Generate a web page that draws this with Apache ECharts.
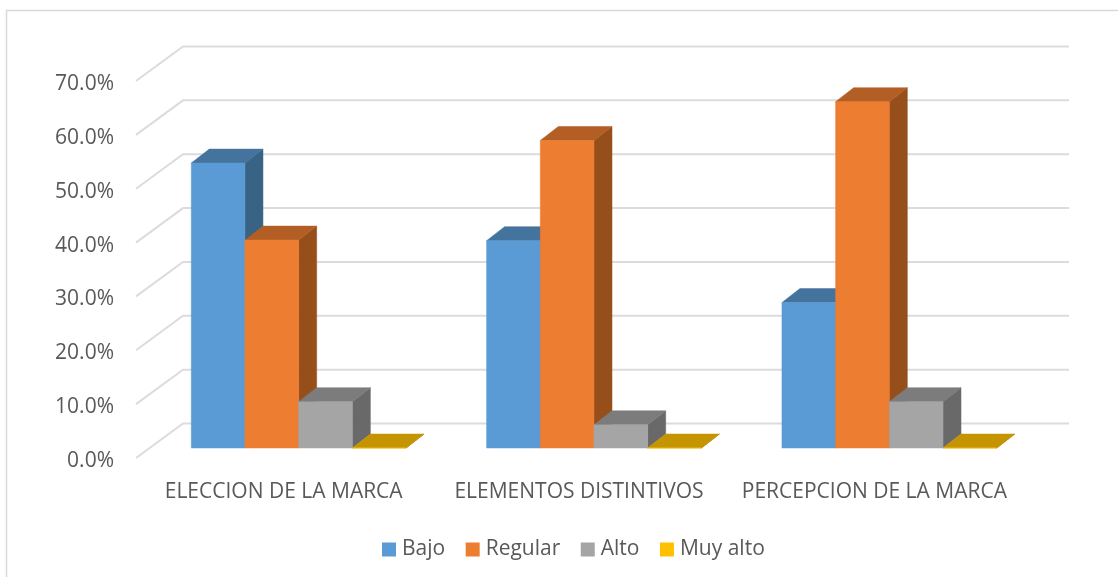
<!DOCTYPE html>
<html>
<head>
<meta charset="utf-8" />
<style>
  html, body { margin: 0; padding: 0; background: #fff; }
  #main { width: 1118px; height: 577px; }
</style>
<script src="https://cdn.jsdelivr.net/npm/echarts@6/dist/echarts.min.js"></script>
</head>
<body>
<div id="main"></div>
<script>
const categories = ["ELECCION DE LA MARCA", "ELEMENTOS DISTINTIVOS", "PERCEPCION DE LA MARCA"];
const bajo = [52.9, 38.5, 27.0];
const regular = [38.6, 57.1, 64.3];
const alto = [8.6, 4.3, 8.6];
const muyAlto = [0, 0, 0];
const ticks = [0, 10, 20, 30, 40, 50, 60, 70];

const fontFamily = '"Open Sans", sans-serif';
const textColor = "#595959";

// profundidad del piso 3D y de cada barra, en px
const floorDx = 47;
const floorDy = 34.5;
const barDx = 18;
const barDy = 14;
const barOffsetDx = 15; // las barras van en medio del piso
const barOffsetDy = 10;

function poly(points, fill) {
  return { type: "polygon", shape: { points: points }, style: { fill: fill, stroke: fill, lineWidth: 0.5 } };
}

// cara frontal, cara superior y cara lateral de una barra
function bar3d(index, colors) {
  return function (params, api) {
    const band = api.size([1, 0])[0];
    const w = band / 5.5;
    const top = api.coord([api.value(0), api.value(1)]);
    const base = api.coord([api.value(0), 0]);
    const x0 = top[0] - 2 * w + index * w + barOffsetDx;
    const x1 = x0 + w;
    const yT = top[1] - barOffsetDy;
    const yB = base[1] - barOffsetDy;
    return {
      type: "group",
      children: [
        poly([[x1, yT], [x1 + barDx, yT - barDy], [x1 + barDx, yB - barDy], [x1, yB]], colors[2]),
        poly([[x0, yT], [x0 + barDx, yT - barDy], [x1 + barDx, yT - barDy], [x1, yT]], colors[1]),
        poly([[x0, yT], [x1, yT], [x1, yB], [x0, yB]], colors[0]),
      ],
    };
  };
}

function barSeries(name, values, index, colors) {
  return {
    name: name,
    type: "custom",
    coordinateSystem: "cartesian2d",
    clip: false,
    z: 3,
    itemStyle: { color: colors[0] },
    renderItem: bar3d(index, colors),
    encode: { x: 0, y: 1 },
    data: values.map((v, i) => [i, v]),
  };
}

const chart = echarts.init(document.getElementById("main"), null, { renderer: "canvas" });
chart.setOption({
  animation: false,
  backgroundColor: "#fff",
  textStyle: { fontFamily: fontFamily },
  graphic: [
    {
      type: "rect",
      silent: true,
      shape: { x: 6.5, y: 10.5, width: 1300, height: 800 },
      style: { fill: "none", stroke: "#d9d9d9", lineWidth: 1.5 },
    },
  ],
  grid: { left: 136, top: 81, width: 886, height: 377 },
  legend: {
    data: ["Bajo", "Regular", "Alto", "Muy alto"],
    left: 382,
    top: 539,
    padding: 0,
    icon: "rect",
    itemWidth: 14,
    itemHeight: 14,
    itemGap: 20.5,
    textStyle: { color: textColor, fontSize: 21, fontFamily: fontFamily, padding: [0, 0, 0, 1] },
  },
  xAxis: {
    type: "category",
    data: categories,
    axisLine: { show: false },
    axisTick: { show: false },
    axisLabel: { color: textColor, fontSize: 21, margin: 24, interval: 0, fontFamily: fontFamily },
  },
  yAxis: {
    type: "value",
    min: 0,
    max: 70,
    interval: 10,
    axisLine: { show: false },
    axisTick: { show: false },
    splitLine: { show: false },
    axisLabel: {
      color: textColor,
      fontSize: 21,
      margin: 22,
      verticalAlign: "top",
      lineHeight: 6, // baja el texto unos px respecto a la linea
      fontFamily: fontFamily,
      formatter: (v) => v.toFixed(1) + "%",
    },
  },
  series: [
    {
      // lineas de division: pared del fondo + diagonal del piso
      type: "custom",
      name: "grid",
      clip: false,
      z: 1,
      silent: true,
      renderItem: function (params, api) {
        const p = api.coord([0, api.value(0)]);
        const rect = params.coordSys;
        return {
          type: "polyline",
          shape: {
            points: [
              [rect.x, p[1]],
              [rect.x + floorDx, p[1] - floorDy],
              [rect.x + rect.width + floorDx, p[1] - floorDy],
            ],
          },
          style: { fill: "none", stroke: "#dcdcdc", lineWidth: 2 },
        };
      },
      encode: { y: 0 },
      data: ticks.map((t) => [t]),
    },
    barSeries("Bajo", bajo, 0, ["#5B9BD5", "#44739E", "#386384"]),
    barSeries("Regular", regular, 1, ["#ED7D31", "#B25E25", "#964F1B"]),
    barSeries("Alto", alto, 2, ["#A5A5A5", "#7C7C7C", "#696969"]),
    barSeries("Muy alto", muyAlto, 3, ["#FFC000", "#C49500", "#A27A00"]),
  ],
});
</script>
</body>
</html>
